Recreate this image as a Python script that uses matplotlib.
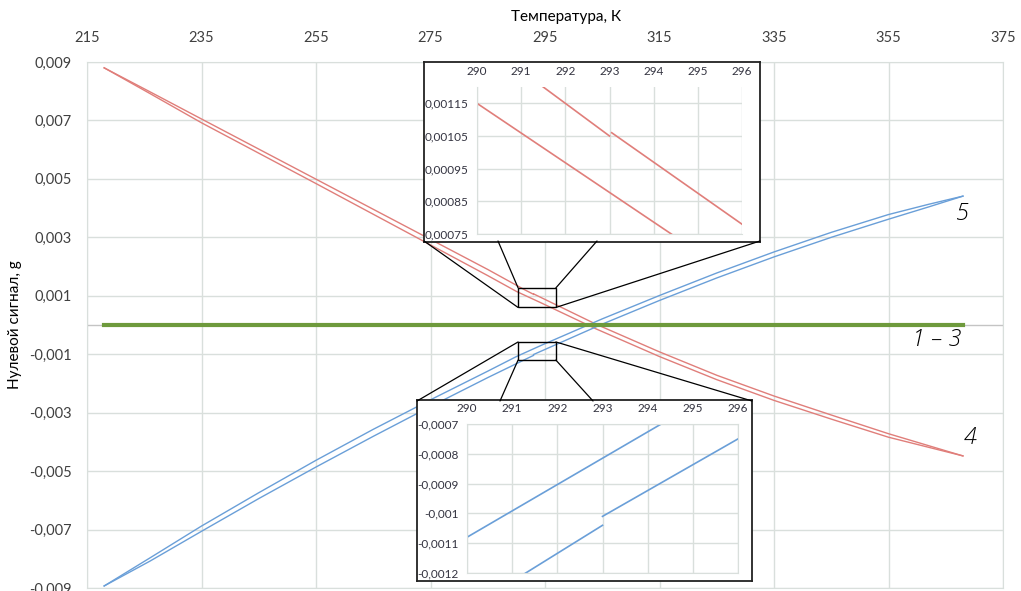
import numpy as np
import matplotlib.pyplot as plt
from matplotlib.patches import Rectangle, ConnectionPatch

plt.rcParams['font.family'] = ['Lato', 'DejaVu Sans']

# temperature, K and zero signal, g for each curve (nan = break in the record)
t_red_a = [218, 226, 235, 245, 255, 265, 275, 285, 291.4, 292, 293, 293, 293.05, 296,
           304, 315, 325, 335, 345, 355, 368]
g_red_a = [0.0088, 0.00798, 0.00705, 0.00602, 0.00499, 0.00396, 0.00293, 0.0019, 0.00121,
           0.00115, 0.00105, np.nan, 0.00106, 0.00078, 0.00002, -0.00092, -0.00172,
           -0.00243, -0.00308, -0.00372, -0.00448]
t_red_b = [218, 226, 235, 245, 255, 265, 275, 285, 290, 294.4, 304, 315, 325, 335, 345,
           355, 368]
g_red_b = [0.0088, 0.00792, 0.00692, 0.00588, 0.00484, 0.00379, 0.00274, 0.00169, 0.00115,
           0.00075, -0.00014, -0.00108, -0.00187, -0.00258, -0.00322, -0.00384, -0.00448]
t_blue_a = [218, 226, 235, 245, 255, 265, 275, 285, 290, 294.3, 305, 315, 325, 335, 345,
            355, 362, 368]
g_blue_a = [-0.00893, -0.00797, -0.00688, -0.00574, -0.00463, -0.00357, -0.00256, -0.00158,
            -0.00108, -0.0007, 0.00021, 0.00101, 0.00178, 0.0025, 0.00317, 0.00378, 0.00413,
            0.00441]
t_blue_b = [218, 226, 235, 245, 255, 265, 275, 285, 291.3, 293, 293, 293, 296, 305, 315,
            325, 335, 345, 355, 362, 368]
g_blue_b = [-0.00893, -0.00808, -0.00706, -0.00594, -0.00486, -0.00381, -0.00279, -0.0018,
            -0.0012, -0.00104, np.nan, -0.00101, -0.00075, 0.00003, 0.00084, 0.00161, 0.00233,
            0.003, 0.00362, 0.00404, 0.00441]
t_green = [218, 368]
g_green = [0.0, 0.0]

main_xticks = [215, 235, 255, 275, 295, 315, 335, 355, 375]
main_yticks = [-0.009, -0.007, -0.005, -0.003, -0.001, 0.001, 0.003, 0.005, 0.007, 0.009]
zoom_xticks = [290, 291, 292, 293, 294, 295, 296]
top_yticks = [0.00075, 0.00085, 0.00095, 0.00105, 0.00115]
bot_yticks = [-0.0012, -0.0011, -0.001, -0.0009, -0.0008, -0.0007]

RED = '#e07e7a'
BLUE = '#6a9fd8'
GREEN = '#6e9a3c'
GRID = '#d9dfdc'

W, H = 1021, 591
fig = plt.figure(figsize=(W / 100, H / 100), dpi=100)


def box(x0, y0, x1, y1):
    return [x0 / W, 1 - y1 / H, (x1 - x0) / W, (y1 - y0) / H]


def comma(v, pos=None):
    s = f'{v:.5f}'.rstrip('0').rstrip('.')
    return s.replace('.', ',')


def draw_curves(a, lw):
    a.plot(t_red_a, g_red_a, color=RED, lw=lw)
    a.plot(t_red_b, g_red_b, color=RED, lw=lw)
    a.plot(t_blue_a, g_blue_a, color=BLUE, lw=lw)
    a.plot(t_blue_b, g_blue_b, color=BLUE, lw=lw)


# main chart
ax = fig.add_axes(box(87, 62, 1003, 588))
ax.set_xlim(215, 375)
ax.set_ylim(-0.009, 0.009)
ax.set_xticks(main_xticks)
ax.set_yticks(main_yticks)
ax.yaxis.set_major_formatter(comma)
ax.xaxis.tick_top()
ax.tick_params(length=0, labelsize=10.5, colors='#404040')
ax.tick_params(axis='x', pad=12)
ax.tick_params(axis='y', pad=11)
ax.grid(color=GRID, lw=1)
for sp in ax.spines.values():
    sp.set_color(GRID)
ax.axhline(0, color='#c4c4c4', lw=1)
draw_curves(ax, 1.0)
ax.plot(t_green, g_green, color=GREEN, lw=3)

fig.text(566 / W, 1 - 17 / H, 'Температура, К', ha='center', va='center', fontsize=11)
fig.text(15 / W, 1 - 325 / H, 'Нулевой сигнал, g', ha='center', va='center',
         rotation=90, fontsize=11)

lab = dict(fontsize=17, fontstyle='italic', family=['Open Sans', 'DejaVu Sans'],
           fontweight='light', ha='center', va='center')
ax.text(368.0, 0.0038, '5', **lab)
ax.text(363.5, -0.00053, '1 – 3', **lab)
ax.text(369.2, -0.00387, '4', **lab)

# zoom regions marked on the main chart
zones = [(290.3, 296.9, 0.0006, 0.00127), (290.3, 296.9, -0.0012, -0.00058)]
for x0, x1, y0, y1 in zones:
    ax.add_patch(Rectangle((x0, y0), x1 - x0, y1 - y0, fill=False, ec='black', lw=1, zorder=5))

links = [
    ((424, 241), (290.3, 0.0006)), ((498, 241), (290.3, 0.00127)),
    ((597, 241), (296.9, 0.00127)), ((760, 241), (296.9, 0.0006)),
    ((417, 401), (290.3, -0.00058)), ((500, 401), (290.3, -0.0012)),
    ((593, 401), (296.9, -0.0012)), ((752, 401), (296.9, -0.00058)),
]
for (fx, fy), xy in links:
    cp = ConnectionPatch(xyA=(fx, H - fy), coordsA='figure pixels', xyB=xy,
                         coordsB=ax.transData, color='black', lw=0.9)
    fig.add_artist(cp)


def inset(frame, area, ylim, yticks, spine_top):
    fr = fig.add_axes(box(*frame))
    fr.set_xticks([])
    fr.set_yticks([])
    for sp in fr.spines.values():
        sp.set_color('#222222')
        sp.set_linewidth(1.3)
    a = fig.add_axes(box(*area))
    a.set_xlim(290, 296)
    a.set_ylim(*ylim)
    a.set_xticks(zoom_xticks)
    a.set_yticks(yticks)
    a.yaxis.set_major_formatter(comma)
    a.xaxis.tick_top()
    a.tick_params(length=0, labelsize=8.5, colors='#333340')
    a.tick_params(axis='x', pad=7)
    a.tick_params(axis='y', pad=6)
    a.grid(color=GRID, lw=1)
    for sp in a.spines.values():
        sp.set_color(GRID)
    a.spines['top'].set_visible(spine_top)
    a.spines['right'].set_visible(spine_top)
    draw_curves(a, 1.2)
    return a


inset((424, 62, 760, 242), (477, 87, 742, 234), (0.00075, 0.0012), top_yticks, False)
inset((417, 400, 752, 581), (467, 424, 738, 573), (-0.0012, -0.0007), bot_yticks, True)

fig.savefig('out.png', dpi=100, facecolor='white')
